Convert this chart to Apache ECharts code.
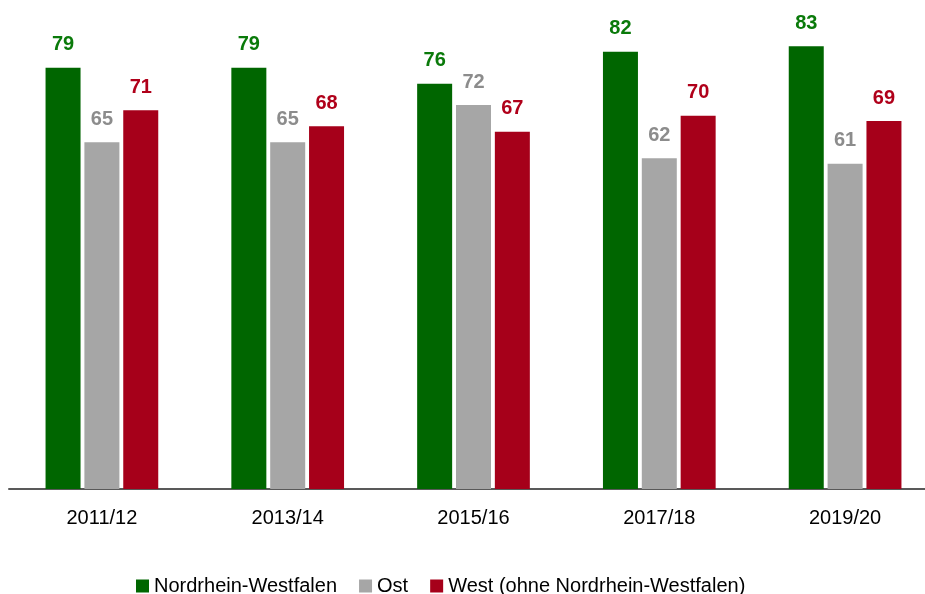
<!DOCTYPE html>
<html>
<head>
<meta charset="utf-8">
<script src="https://cdn.jsdelivr.net/npm/echarts@6/dist/echarts.min.js"></script>
<style>html,body{margin:0;padding:0;background:#fff}#c{width:925px;height:594px}</style>
</head>
<body>
<div id="c"></div>
<script>
const categories = ['2011/12', '2013/14', '2015/16', '2017/18', '2019/20'];
const nrw = [79, 79, 76, 82, 83];
const ost = [65, 65, 72, 62, 61];
const west = [71, 68, 67, 70, 69];
const seriesNames = ['Nordrhein-Westfalen', 'Ost', 'West (ohne Nordrhein-Westfalen)'];

const FONT = "'Liberation Sans', Arial, sans-serif";
function mk(name, data, color, labelColor) {
  return {
    name, type: 'bar', data, barWidth: 35, barGap: '11%',
    itemStyle: { color },
    label: { show: true, position: 'top', distance: 13, color: labelColor, fontSize: 20, fontWeight: 'bold', fontFamily: FONT },
    emphasis: { disabled: true }
  };
}
const chart = echarts.init(document.getElementById('c'));
chart.setOption({
  animation: false,
  textStyle: { fontFamily: FONT },
  grid: { left: 9, width: 929, top: 9, bottom: 105, containLabel: false, outerBoundsMode: 'none' },
  legend: {
    data: seriesNames, left: 131, top: 571, icon: 'rect', itemWidth: 13, itemHeight: 13, itemGap: 22,
    textStyle: { fontSize: 20, color: '#000', fontFamily: FONT }
  },
  xAxis: {
    type: 'category', data: categories,
    axisLine: { lineStyle: { color: '#595959', width: 2 } },
    axisTick: { show: false },
    axisLabel: { fontSize: 20, color: '#000', margin: 19, fontFamily: FONT }
  },
  yAxis: { type: 'value', min: 0, max: 90, show: false, splitLine: { show: false } },
  series: [
    mk(seriesNames[0], nrw, '#006600', '#0a7a0a'),
    mk(seriesNames[1], ost, '#a6a6a6', '#8c8c8c'),
    mk(seriesNames[2], west, '#a6001a', '#b0001a')
  ]
});
</script>
</body>
</html>
